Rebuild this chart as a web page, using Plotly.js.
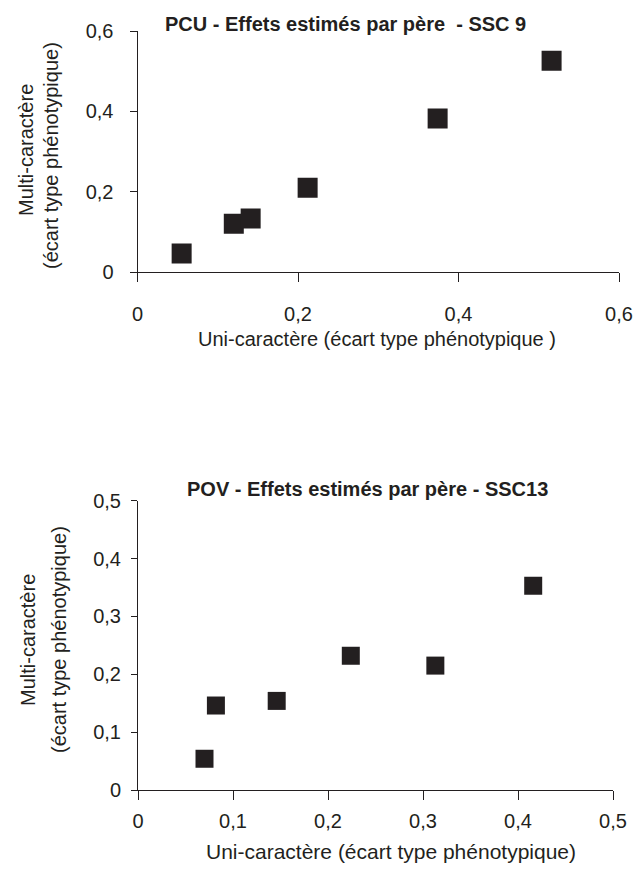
<!DOCTYPE html>
<html>
<head>
<meta charset="utf-8">
<script src="https://cdn.plot.ly/plotly-3.0.1.min.js"></script>
<style>html,body{margin:0;padding:0;background:#fff;}#chart{width:644px;height:869px;}</style>
</head>
<body>
<div id="chart"></div>
<script>
// PCU - SSC 9
var pcuUni   = [0.055, 0.120, 0.141, 0.212, 0.374, 0.516];
var pcuMulti = [0.046, 0.120, 0.133, 0.210, 0.382, 0.526];
// POV - SSC13
var povUni   = [0.070, 0.082, 0.146, 0.224, 0.313, 0.416];
var povMulti = [0.054, 0.146, 0.154, 0.232, 0.215, 0.353];

var topTicks = [0, 0.2, 0.4, 0.6];
var botTicks = [0, 0.1, 0.2, 0.3, 0.4, 0.5];

var titleTop = "PCU - Effets estimés par père  - SSC 9";
var titleBot = "POV - Effets estimés par père - SSC13";
var xTitleTop = "Uni-caractère (écart type phénotypique )";
var xTitleBot = "Uni-caractère (écart type phénotypique)";
var yTitle1 = "Multi-caractère";
var yTitle2 = "(écart type phénotypique)";

var ink = "#231f20";
var font = "Liberation Sans Narrow, Arial Narrow, Liberation Sans, Arial, sans-serif";
var bold = "Liberation Sans, Arial, sans-serif";
var W = 644, H = 869;
function px(x){return x / W;}
function py(y){return 1 - y / H;}

var traces = [
  {x: pcuUni, y: pcuMulti, xaxis: "x", yaxis: "y", type: "scatter", mode: "markers",
   marker: {symbol: "square", size: 20, color: ink, line: {width: 0}}},
  {x: povUni, y: povMulti, xaxis: "x2", yaxis: "y2", type: "scatter", mode: "markers",
   marker: {symbol: "square", size: 18, color: ink, line: {width: 0}}}
];

function axisBase(extra){
  var a = {showgrid: false, zeroline: false, showline: true, linecolor: ink, linewidth: 1,
    ticks: "outside", tickcolor: ink, tickwidth: 1, fixedrange: true,
    tickfont: {family: font, size: 20, color: ink}};
  for (var k in extra) a[k] = extra[k];
  return a;
}

function ann(text, x, y, size, angle, fam){
  var a = {text: text, xref: "paper", yref: "paper", x: px(x), y: py(y),
    xanchor: "center", yanchor: "middle", showarrow: false,
    font: {family: fam || font, size: size, color: ink}};
  if (angle) a.textangle = angle;
  return a;
}

var layout = {
  width: W, height: H,
  margin: {l: 0, r: 0, t: 0, b: 0},
  paper_bgcolor: "#fff", plot_bgcolor: "#fff",
  showlegend: false,
  separators: ", ",
  xaxis: axisBase({domain: [px(137.5), px(619)], range: [0, 0.6], tickvals: topTicks,
    ticklen: 9, ticklabelstandoff: 15, anchor: "y"}),
  yaxis: axisBase({domain: [py(272), py(31)], range: [0, 0.6], tickvals: topTicks,
    ticklen: 7, ticklabelstandoff: 12, anchor: "x"}),
  xaxis2: axisBase({domain: [px(138), px(613)], range: [0, 0.5], tickvals: botTicks,
    ticklen: 9, ticklabelstandoff: 4, anchor: "y2"}),
  yaxis2: axisBase({domain: [py(790), py(500.7)], range: [0, 0.5], tickvals: botTicks,
    ticklen: 6, ticklabelstandoff: 6, anchor: "x2"}),
  annotations: [
    ann("<b>" + titleTop + "</b>", 345, 23.7, 20, 0, bold),
    ann("<b>" + titleBot + "</b>", 367, 488.7, 20, 0, bold),
    ann(xTitleTop, 376.7, 339, 20),
    ann(xTitleBot, 391, 851, 21),
    ann(yTitle1, 26, 150, 20, -90),
    ann(yTitle2, 51, 156, 20, -90),
    ann(yTitle1, 28, 640, 20, -90),
    ann(yTitle2, 59, 640, 20, -90)
  ]
};

Plotly.newPlot("chart", traces, layout, {displayModeBar: false, staticPlot: true});
</script>
</body>
</html>
